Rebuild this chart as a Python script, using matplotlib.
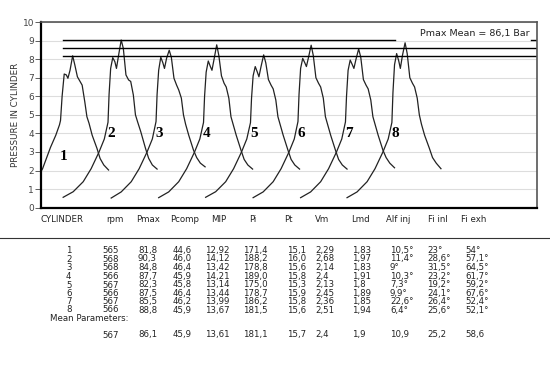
import matplotlib
matplotlib.use('Agg')
import matplotlib.pyplot as plt

# crank angle offset from each cylinder's firing TDC (deg)
angle = [-110, -91, -72, -57, -42, -32, -25, -23, -20, -16, -12, -9, -5,
         0, 4, 9, 14, 18, 23, 27, 31, 37, 46, 52, 59, 68]

tdc = [60, 152, 243, 333, 422, 512, 602, 690]

# pressure traces (x10 bar), one list per cylinder
p1 = [0.50, 0.80, 1.35, 2.10, 3.25, 3.90, 4.46, 4.70, 6.00, 7.20, 7.15, 6.97, 7.40,
      8.18, 7.70, 7.05, 6.80, 6.60, 5.70, 4.90, 4.55, 3.90, 3.20, 2.65, 2.30, 2.03]
p2 = [0.56, 0.86, 1.40, 2.10, 3.00, 3.70, 4.60, 6.10, 7.50, 8.08, 7.86, 7.50, 8.20,
      9.03, 8.58, 7.15, 6.88, 6.80, 6.07, 5.00, 4.63, 4.10, 3.20, 2.66, 2.30, 2.08]
p3 = [0.52, 0.85, 1.40, 2.10, 3.00, 3.70, 4.64, 6.10, 7.40, 8.10, 7.80, 7.50, 8.05,
      8.48, 8.10, 6.97, 6.60, 6.34, 5.90, 5.00, 4.50, 3.90, 3.10, 2.70, 2.40, 2.20]
p4 = [0.54, 0.85, 1.40, 2.10, 3.00, 3.70, 4.59, 6.00, 7.30, 7.90, 7.60, 7.40, 8.00,
      8.77, 8.20, 7.10, 6.70, 6.50, 5.90, 4.90, 4.50, 3.90, 3.10, 2.60, 2.30, 2.08]
p5 = [0.56, 0.86, 1.40, 2.10, 3.00, 3.70, 4.58, 5.90, 7.10, 7.60, 7.30, 7.05, 7.60,
      8.23, 7.80, 6.90, 6.60, 6.40, 5.80, 4.90, 4.50, 3.90, 3.10, 2.60, 2.30, 2.08]
p6 = [0.54, 0.85, 1.40, 2.10, 3.00, 3.70, 4.64, 6.10, 7.50, 8.04, 7.80, 7.60, 8.10,
      8.75, 8.20, 7.00, 6.70, 6.50, 5.90, 4.90, 4.50, 3.90, 3.10, 2.60, 2.30, 2.08]
p7 = [0.54, 0.85, 1.40, 2.10, 3.00, 3.70, 4.62, 6.00, 7.40, 7.95, 7.70, 7.50, 8.00,
      8.55, 8.10, 6.90, 6.60, 6.40, 5.80, 4.90, 4.50, 3.90, 3.10, 2.70, 2.40, 2.15]
p8 = [0.54, 0.85, 1.40, 2.10, 3.00, 3.70, 4.59, 6.20, 7.70, 8.30, 7.90, 7.50, 8.20,
      8.88, 8.30, 7.00, 6.70, 6.50, 5.90, 5.00, 4.50, 3.90, 3.20, 2.70, 2.40, 2.10]
traces = [p1, p2, p3, p4, p5, p6, p7, p8]

pmax_max = 9.03
pmax_mean = 8.61
pmax_min = 8.18

headers = ['CYLINDER', 'rpm', 'Pmax', 'Pcomp', 'MIP', 'Pi', 'Pt', 'Vm', 'Lmd',
           'Alf inj', 'Fi inl', 'Fi exh']
rows = [
    ['1', '565', '81,8', '44,6', '12,92', '171,4', '15,1', '2,29', '1,83', '10,5°', '23°', '54°'],
    ['2', '568', '90,3', '46,0', '14,12', '188,2', '16,0', '2,68', '1,97', '11,4°', '28,6°', '57,1°'],
    ['3', '568', '84,8', '46,4', '13,42', '178,8', '15,6', '2,14', '1,83', '9°', '31,5°', '64,5°'],
    ['4', '566', '87,7', '45,9', '14,21', '189,0', '15,8', '2,4', '1,91', '10,3°', '23,2°', '61,7°'],
    ['5', '567', '82,3', '45,8', '13,14', '175,0', '15,3', '2,13', '1,8', '7,3°', '19,2°', '59,2°'],
    ['6', '566', '87,5', '46,4', '13,44', '178,7', '15,9', '2,45', '1,89', '9,9°', '24,1°', '67,6°'],
    ['7', '567', '85,5', '46,2', '13,99', '186,2', '15,8', '2,36', '1,85', '22,6°', '26,4°', '52,4°'],
    ['8', '566', '88,8', '45,9', '13,67', '181,5', '15,6', '2,51', '1,94', '6,4°', '25,6°', '52,1°'],
]
mean_row = ['', '567', '86,1', '45,9', '13,61', '181,1', '15,7', '2,4', '1,9', '10,9', '25,2', '58,6']

W, H = 550, 373
fig = plt.figure(figsize=(W / 100, H / 100), dpi=100)
ax = fig.add_axes([41 / W, 1 - 207.7 / H, 496 / W, 185.7 / H])

for k in range(8):
    xs = [tdc[k] + a for a in angle]
    ax.plot(xs, traces[k], color='#222222', lw=0.9)
    if k == 0:
        ax.text(42, 2.75, '1', fontsize=11, fontweight='bold', family='Liberation Serif',
                ha='center', va='center')
    else:
        ax.text(tdc[k] - 19, 4.0, str(k + 1), fontsize=11, fontweight='bold',
                family='Liberation Serif', ha='center', va='center')

ax.set_xlim(0, 940)
ax.set_ylim(0, 10)

# Pmax reference lines
ax.plot([42, 670], [pmax_max, pmax_max], color='black', lw=1)
ax.plot([928, 940], [pmax_max, pmax_max], color='black', lw=1)
ax.plot([42, 940], [pmax_mean, pmax_mean], color='black', lw=1)
ax.plot([42, 940], [pmax_min, pmax_min], color='black', lw=1)
ax.text(926, 9.38, 'Pmax Mean = 86,1 Bar', ha='right', va='center', fontsize=6.8,
        color='#222222')

ax.set_yticks(range(11))
ax.set_xticks([])
ax.grid(axis='y', color='#dddddd', lw=0.8)
ax.set_axisbelow(True)
ax.tick_params(axis='y', labelsize=6.5, length=4, width=0.6, pad=1, colors='#444444')
ax.set_ylabel('PRESSURE IN CYLINDER', fontsize=6.3, color='#333333', labelpad=2)
for s in ['left', 'bottom']:
    ax.spines[s].set_linewidth(1.6)
    ax.spines[s].set_color('black')
for s in ['top', 'right']:
    ax.spines[s].set_linewidth(1.2)
    ax.spines[s].set_color('#555555')

# table below the chart
col_x = [66, 102, 138, 173, 205, 243, 287, 315, 352, 390, 427, 465]
head_x = [62, 115, 148, 185, 219, 253, 288, 322, 360, 398, 438, 474]
tfont = dict(fontsize=6.2, color='#222222', family=['Liberation Sans Narrow', 'DejaVu Sans'])

for hx, h in zip(head_x, headers):
    fig.text(hx / W, 1 - 220 / H, h, ha='center', va='center', **tfont)

fig.add_artist(plt.Line2D([0, 1], [1 - 238 / H, 1 - 238 / H], color='#333333', lw=0.8))

row_y = [250.7, 259, 267.7, 276.5, 285, 293.3, 301.7, 310]
for ry, row in zip(row_y, rows):
    for cx, val in zip(col_x, row):
        fig.text(cx / W, 1 - ry / H, val, ha='left', va='center', **tfont)
fig.text(50 / W, 1 - 318.5 / H, 'Mean Parameters:', ha='left', va='center', **tfont)
for cx, val in zip(col_x, mean_row):
    fig.text(cx / W, 1 - 335 / H, val, ha='left', va='center', **tfont)

fig.savefig('out.png', dpi=100)
